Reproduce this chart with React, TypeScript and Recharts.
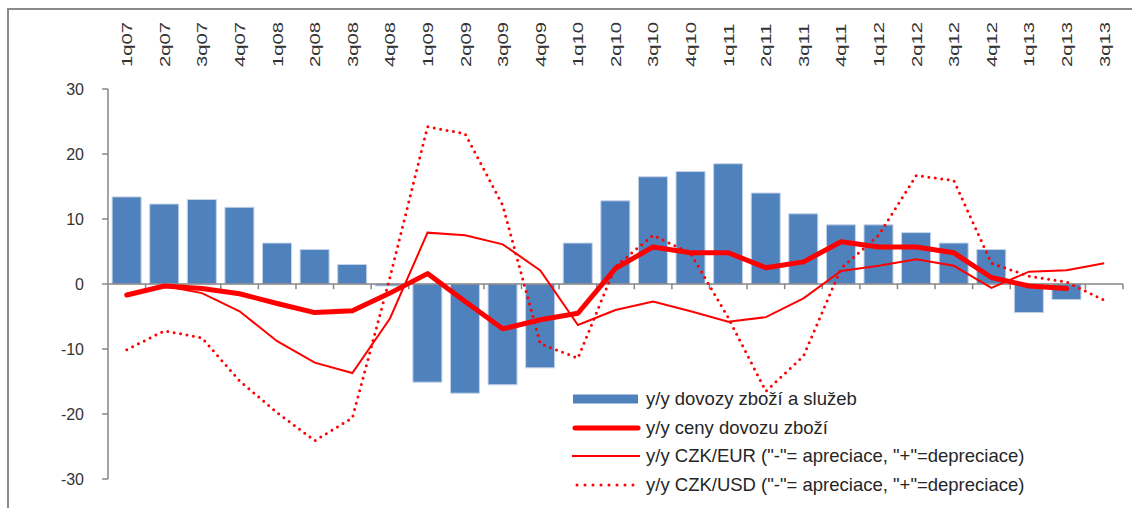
import React from 'react';
import { ComposedChart, Bar, Line, XAxis, YAxis, ReferenceLine, Legend } from 'recharts';

const quarters = [
  '1q07', '2q07', '3q07', '4q07', '1q08', '2q08', '3q08', '4q08', '1q09', '2q09', '3q09', '4q09',
  '1q10', '2q10', '3q10', '4q10', '1q11', '2q11', '3q11', '4q11', '1q12', '2q12', '3q12', '4q12',
  '1q13', '2q13', '3q13',
];

const importsYoY: (number | null)[] = [
  13.4, 12.3, 13.0, 11.8, 6.3, 5.3, 3.0, -0.3, -15.1, -16.8, -15.5, -12.9,
  6.3, 12.8, 16.5, 17.3, 18.5, 14.0, 10.8, 9.1, 9.1, 7.9, 6.3, 5.3,
  -4.4, -2.4, null,
];

const importPricesYoY: (number | null)[] = [
  -1.7, -0.3, -0.7, -1.5, -3.0, -4.4, -4.1, -1.4, 1.6, -2.7, -6.9, -5.5,
  -4.5, 2.4, 5.7, 4.8, 4.8, 2.5, 3.4, 6.5, 5.7, 5.7, 4.8, 1.0,
  -0.3, -0.7, null,
];

const czkEurYoY: (number | null)[] = [
  -1.7, -0.3, -1.4, -4.2, -8.8, -12.1, -13.7, -5.3, 7.9, 7.5, 6.1, 2.1,
  -6.3, -4.0, -2.7, -4.2, -5.8, -5.1, -2.2, 2.0, 2.8, 3.8, 2.8, -0.6,
  1.9, 2.1, 3.2,
];

const czkUsdYoY: (number | null)[] = [
  -10.1, -7.2, -8.3, -14.9, -19.8, -24.1, -20.6, 1.0, 24.2, 23.1, 12.1, -9.2,
  -11.4, 2.7, 7.5, 4.7, -5.2, -16.5, -11.1, 2.4, 7.5, 16.7, 15.9, 3.2,
  1.2, 0.3, -2.5,
];

const yTicks = [-30, -20, -10, 0, 10, 20, 30];

const seriesNames = [
  'y/y dovozy zboží a služeb',
  'y/y ceny dovozu zboží',
  'y/y CZK/EUR ("-"= apreciace, "+"=depreciace)',
  'y/y CZK/USD ("-"= apreciace, "+"=depreciace)',
];

const data = quarters.map((q, i) => ({
  q,
  idx: i,
  imp: importsYoY[i],
  price: importPricesYoY[i],
  eur: czkEurYoY[i],
  usd: czkUsdYoY[i],
}));

const boundaries = quarters.map((_, i) => i + 1);

const FONT = "'Liberation Sans', Arial, sans-serif";
const BLUE = '#4F81BD';
const RED = '#FF0000';
const AXIS = '#868686';

const TopTick = (props: any) => {
  const { x, payload } = props;
  return (
    <g transform={`translate(${x},67)`}>
      <text
        transform="rotate(-90) scale(1.35,1)"
        textAnchor="start"
        dy="0.36em"
        fontSize={15}
        fill="#333"
        fontFamily={FONT}
      >
        {payload.value}
      </text>
    </g>
  );
};

const LegendSymbol = ({ i }: { i: number }) => {
  if (i === 0) return <rect x={3} y={2.5} width={65} height={9} fill={BLUE} />;
  if (i === 1)
    return <line x1={5} y1={7} x2={68} y2={7} stroke={RED} strokeWidth={5} strokeLinecap="round" />;
  if (i === 2) return <line x1={2} y1={7} x2={70} y2={7} stroke={RED} strokeWidth={2} />;
  return (
    <line
      x1={7}
      y1={7}
      x2={64}
      y2={7}
      stroke={RED}
      strokeWidth={3}
      strokeDasharray="0 8"
      strokeLinecap="round"
    />
  );
};

const LegendContent = () => (
  <div style={{ fontFamily: FONT, fontSize: 18.5, color: '#262626' }}>
    {seriesNames.map((name, i) => (
      <div key={i} style={{ display: 'flex', alignItems: 'center', height: 28.5, whiteSpace: 'nowrap' }}>
        <svg width={76} height={14} style={{ flex: 'none', display: 'block' }}>
          <LegendSymbol i={i} />
        </svg>
        <span style={{ lineHeight: '20px' }}>{name}</span>
      </div>
    ))}
  </div>
);

export default function App() {
  return (
    <div
      style={{
        position: 'absolute',
        left: 0,
        top: 0,
        width: 1132,
        height: 508,
        overflow: 'hidden',
        background: '#fff',
      }}
    >
      <div
        style={{
          position: 'absolute',
          left: 7,
          top: 8,
          width: 1130,
          height: 505,
          borderTop: '2px solid #8a8a8a',
          borderLeft: '2px solid #8a8a8a',
        }}
      />
      <div style={{ position: 'absolute', left: 0, top: 0 }}>
        <ComposedChart
          width={1132}
          height={508}
          data={data}
          margin={{ top: 19, right: 9, bottom: 29, left: 48 }}
          barCategoryGap="11%"
        >
          <XAxis
            dataKey="q"
            orientation="top"
            height={70}
            axisLine={false}
            tickLine={false}
            interval={0}
            tick={<TopTick />}
          />
          <XAxis xAxisId="b" type="number" dataKey="idx" domain={[0, 27]} hide allowDataOverflow />
          <YAxis
            domain={[-30, 30]}
            ticks={yTicks}
            width={60}
            interval={0}
            allowDataOverflow
            axisLine={{ stroke: AXIS, strokeWidth: 1.5 }}
            tickLine={{ stroke: AXIS, strokeWidth: 1.5 }}
            tickSize={6}
            tickMargin={18}
            tick={{ fontSize: 16, fill: '#333', fontFamily: FONT }}
          />
          <Bar dataKey="imp" name={seriesNames[0]} fill={BLUE} stroke="#c3d3e8" strokeWidth={1} isAnimationActive={false} />
          <ReferenceLine y={0} stroke={AXIS} strokeWidth={1.5} />
          {boundaries.map((b) => (
            <ReferenceLine
              key={b}
              xAxisId="b"
              segment={[
                { x: b, y: 0 },
                { x: b, y: -0.8 },
              ]}
              stroke={AXIS}
              strokeWidth={1.5}
              ifOverflow="visible"
            />
          ))}
          <Line
            type="linear"
            dataKey="eur"
            name={seriesNames[2]}
            stroke={RED}
            strokeWidth={2}
            dot={false}
            activeDot={false}
            isAnimationActive={false}
          />
          <Line
            type="linear"
            dataKey="usd"
            name={seriesNames[3]}
            stroke={RED}
            strokeWidth={3}
            strokeDasharray="0 6.5"
            strokeLinecap="round"
            dot={false}
            activeDot={false}
            isAnimationActive={false}
          />
          <Line
            type="linear"
            dataKey="price"
            name={seriesNames[1]}
            stroke={RED}
            strokeWidth={5}
            strokeLinecap="round"
            strokeLinejoin="round"
            dot={false}
            activeDot={false}
            isAnimationActive={false}
          />
          <Legend
            layout="vertical"
            align="center"
            verticalAlign="middle"
            wrapperStyle={{ left: 570, top: 385, width: 560 }}
            content={<LegendContent />}
          />
        </ComposedChart>
      </div>
    </div>
  );
}
